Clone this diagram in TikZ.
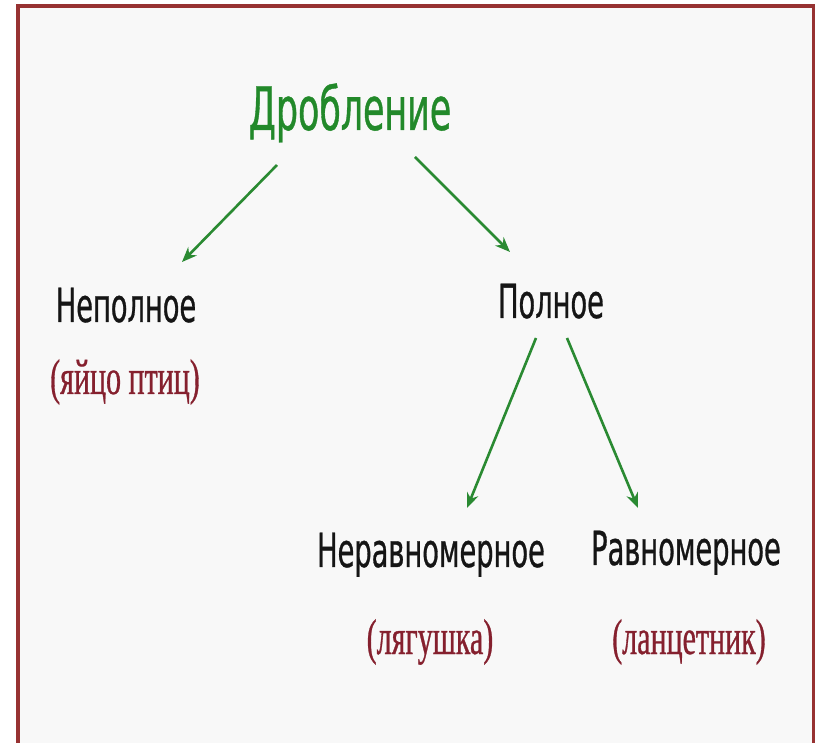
\documentclass[tikz,border=0pt]{standalone}
\usepackage{fontspec}
\usetikzlibrary{arrows.meta}
\newfontfamily\blackfont[FakeStretch=0.58,FakeBold=0.6]{DejaVu Sans}
\newfontfamily\redfont[FakeStretch=0.6,FakeBold=0.6]{Liberation Serif}
\definecolor{framered}{HTML}{973232}
\definecolor{bggray}{HTML}{F8F8F8}
\definecolor{titlegreen}{HTML}{22892A}
\definecolor{arrowgreen}{HTML}{2A8A32}
\definecolor{notered}{HTML}{85202E}
\definecolor{textblack}{HTML}{151515}
\tikzset{
  title/.style={anchor=base, inner sep=0pt, text=titlegreen, font=\blackfont\fontsize{60}{60}\selectfont},
  kind/.style={anchor=base, inner sep=0pt, text=textblack, font=\blackfont\fontsize{47}{47}\selectfont},
  note/.style={anchor=base, inner sep=0pt, text=notered, font=\redfont\fontsize{50}{50}\selectfont},
  arr/.style={draw=arrowgreen, line width=2.6pt, -{Stealth[length=15pt,width=12pt]}},
}
\begin{document}
\begin{tikzpicture}[x=1pt,y=-1pt]
\useasboundingbox (0,0) rectangle (815,743);
\fill[white] (0,0) rectangle (815,743);
\fill[bggray] (18,6) rectangle (814,750);
\draw[framered, line width=3.2pt] (18,760) -- (18,6) -- (814,6) -- (814,760);

\node[title] (drob) at (350,130) {Дробление};
\node[kind] (nepol) at (126,322) {Неполное};
\node[note] (birds) at (125,394) {(яйцо птиц)};
\node[kind] (pol) at (551,318) {Полное};
\node[kind] (neravn) at (431,567) {Неравномерное};
\node[note] (frog) at (430,654) {(лягушка)};
\node[kind] (ravn) at (686,565) {Равномерное};
\node[note] (lanc) at (689,654) {(ланцетник)};

\coordinate (a1s) at (277,165);
\coordinate (a1e) at (182,262);
\coordinate (a2s) at (415,157);
\coordinate (a2e) at (510,252);
\coordinate (a3s) at (536,338);
\coordinate (a3e) at (467,508);
\coordinate (a4s) at (567,338);
\coordinate (a4e) at (638,508);

\draw[arr] (a1s) -- (a1e);
\draw[arr] (a2s) -- (a2e);
\draw[arr] (a3s) -- (a3e);
\draw[arr] (a4s) -- (a4e);
\end{tikzpicture}
\end{document}
